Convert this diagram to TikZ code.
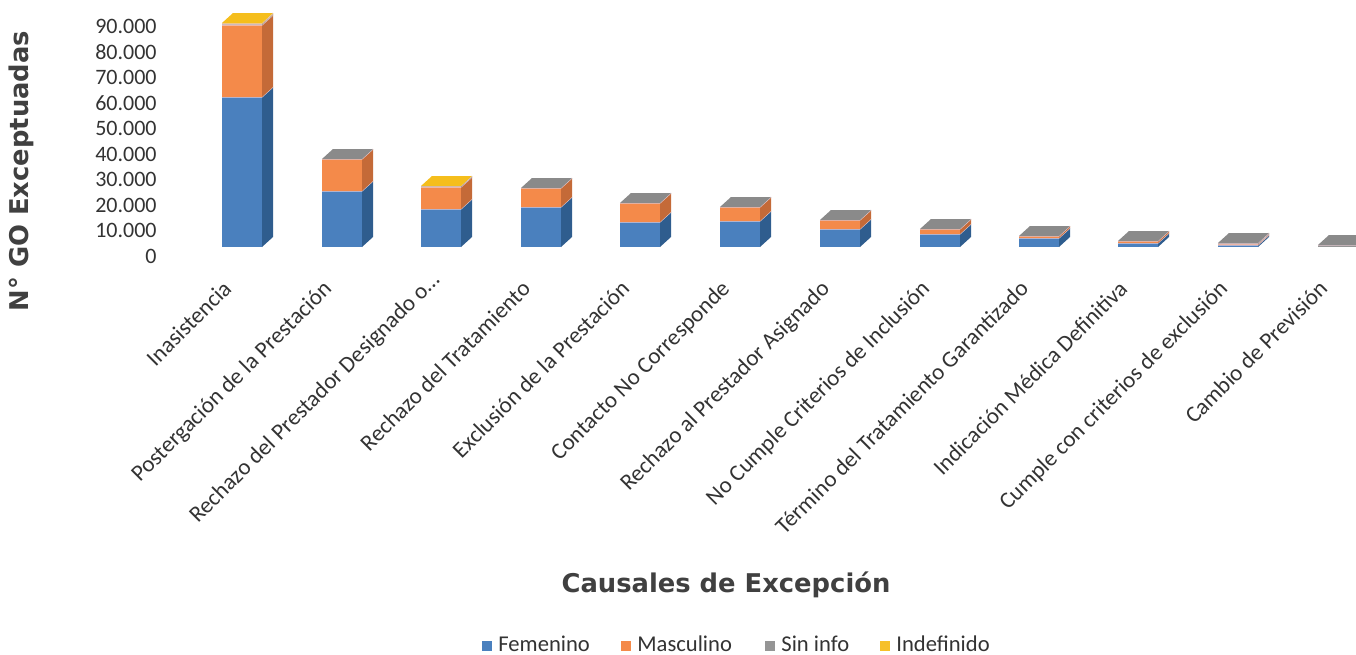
\documentclass[tikz,border=0pt]{standalone}
\usepackage{fontspec}
\setmainfont{Carlito}
\newfontfamily\ttlfont{DejaVu Sans}
\definecolor{bluF}{HTML}{4A80BE}
\definecolor{bluS}{HTML}{2F5D8E}
\definecolor{bluT}{HTML}{5A8CC8}
\definecolor{ornF}{HTML}{F48A4A}
\definecolor{ornS}{HTML}{C46A38}
\definecolor{ornT}{HTML}{F69A5C}
\definecolor{gryF}{HTML}{959595}
\definecolor{gryS}{HTML}{6E6E6E}
\definecolor{gryT}{HTML}{8A8A8A}
\definecolor{ylwF}{HTML}{F6C02A}
\definecolor{ylwS}{HTML}{C99A14}
\definecolor{ylwT}{HTML}{F5BE1C}
\definecolor{sepc}{HTML}{EBCFD6}
\definecolor{txt}{HTML}{333333}
\definecolor{ttl}{HTML}{404040}
\tikzset{
  tick/.style={anchor=base east, inner sep=0pt, text=txt, font=\fontsize{11}{13}\selectfont},
  cat/.style={anchor=base east, rotate=45, inner sep=0pt, text=txt, font=\fontsize{11.5}{13}\selectfont},
  axttl/.style={inner sep=0pt, text=ttl, font=\ttlfont\bfseries\fontsize{12.9}{15}\selectfont},
  legtxt/.style={anchor=base west, inner sep=0pt, text=txt, font=\fontsize{11.3}{13}\selectfont},
  sepline/.style={draw=sepc, line width=0.5pt}
}
% segment: x0, lower y, upper y, colour prefix
\newcommand\barseg[4]{%
  \fill[#4F] (#1,#2) rectangle (#1+40,#3);
  \fill[#4S] (#1+40,#2) -- (#1+51,#2-10) -- (#1+51,#3-10) -- (#1+40,#3) -- cycle;
  \draw[sepline] (#1,#3) -- (#1+40,#3) -- (#1+51,#3-10);}
% top face: x0, y, colour prefix
\newcommand\bartop[3]{%
  \fill[#3T] (#1,#2) -- (#1+40,#2) -- (#1+51,#2-10) -- (#1+11,#2-10) -- cycle;}
\begin{document}
\begin{tikzpicture}[x=0.5pt,y=-0.5pt]
\useasboundingbox (0,0) rectangle (1356,654);
% y tick labels
\foreach \k/\t in {0/0,1/10.000,2/20.000,3/30.000,4/40.000,5/50.000,6/60.000,7/70.000,8/80.000,9/90.000}
  \node[tick] (tk\k) at (157,{263-25.5*\k}) {\t};
% axis titles
\node[axttl, rotate=90, anchor=base] (ytitle) at (28,171) {N° GO Exceptuadas};
\node[axttl, anchor=base] (xtitle) at (726,592) {Causales de Excepción};
% bars
% 1 Inasistencia
\barseg{222}{247}{97}{blu}\barseg{222}{97}{25}{orn}\barseg{222}{25}{24}{gry}\barseg{222}{24}{23}{ylw}\bartop{222}{23}{ylw}
% 2
\barseg{322}{247}{191}{blu}\barseg{322}{191}{159}{orn}\bartop{322}{159}{gry}
% 3
\barseg{421}{247}{209}{blu}\barseg{421}{209}{187}{orn}\barseg{421}{187}{186}{gry}\bartop{421}{186}{ylw}
% 4
\barseg{521}{247}{207}{blu}\barseg{521}{207}{188}{orn}\bartop{521}{188}{gry}
% 5
\barseg{620}{247}{222}{blu}\barseg{620}{222}{203}{orn}\bartop{620}{203}{gry}
% 6
\barseg{720}{247}{221}{blu}\barseg{720}{221}{207}{orn}\bartop{720}{207}{gry}
% 7
\barseg{820}{247}{229}{blu}\barseg{820}{229}{220}{orn}\bartop{820}{220}{gry}
% 8
\barseg{920}{247}{234}{blu}\barseg{920}{234}{229}{orn}\bartop{920}{229}{gry}
% 9
\barseg{1019}{247}{238}{blu}\barseg{1019}{238}{236}{orn}\bartop{1019}{236}{gry}
% 10
\barseg{1118}{247}{243}{blu}\barseg{1118}{243}{241}{orn}\bartop{1118}{241}{gry}
% 11
\barseg{1218}{247}{245}{blu}\barseg{1218}{245}{244}{orn}\barseg{1218}{244}{243}{gry}\bartop{1218}{243}{gry}
% 12
\barseg{1318}{247}{245}{gry}\bartop{1318}{245}{gry}
% category labels
\foreach \i/\x/\t in {1/222/{Inasistencia},2/322/{Postergación de la Prestación},4/521/{Rechazo del Tratamiento},5/620/{Exclusión de la Prestación},6/720/{Contacto No Corresponde},7/820/{Rechazo al Prestador Asignado},8/920/{No Cumple Criterios de Inclusión},9/1019/{Término del Tratamiento Garantizado},10/1118/{Indicación Médica Definitiva},11/1218/{Cumple con criterios de exclusión},12/1318/{Cambio de Previsión}}
  \node[cat] (cat\i) at (\x+11,290) {\t};
\node[cat] (cat3) at (421+20,281) {Rechazo del Prestador Designado o\ldots};
% legend
\fill[bluF] (482,641) rectangle (492,651);
\node[legtxt] (lg1) at (498,651) {Femenino};
\fill[ornF] (621,641) rectangle (631,651);
\node[legtxt] (lg2) at (637,651) {Masculino};
\fill[gryF] (765,641) rectangle (775,651);
\node[legtxt] (lg3) at (781,651) {Sin info};
\fill[ylwF] (880,641) rectangle (890,651);
\node[legtxt] (lg4) at (896,651) {Indefinido};
\end{tikzpicture}
\end{document}
